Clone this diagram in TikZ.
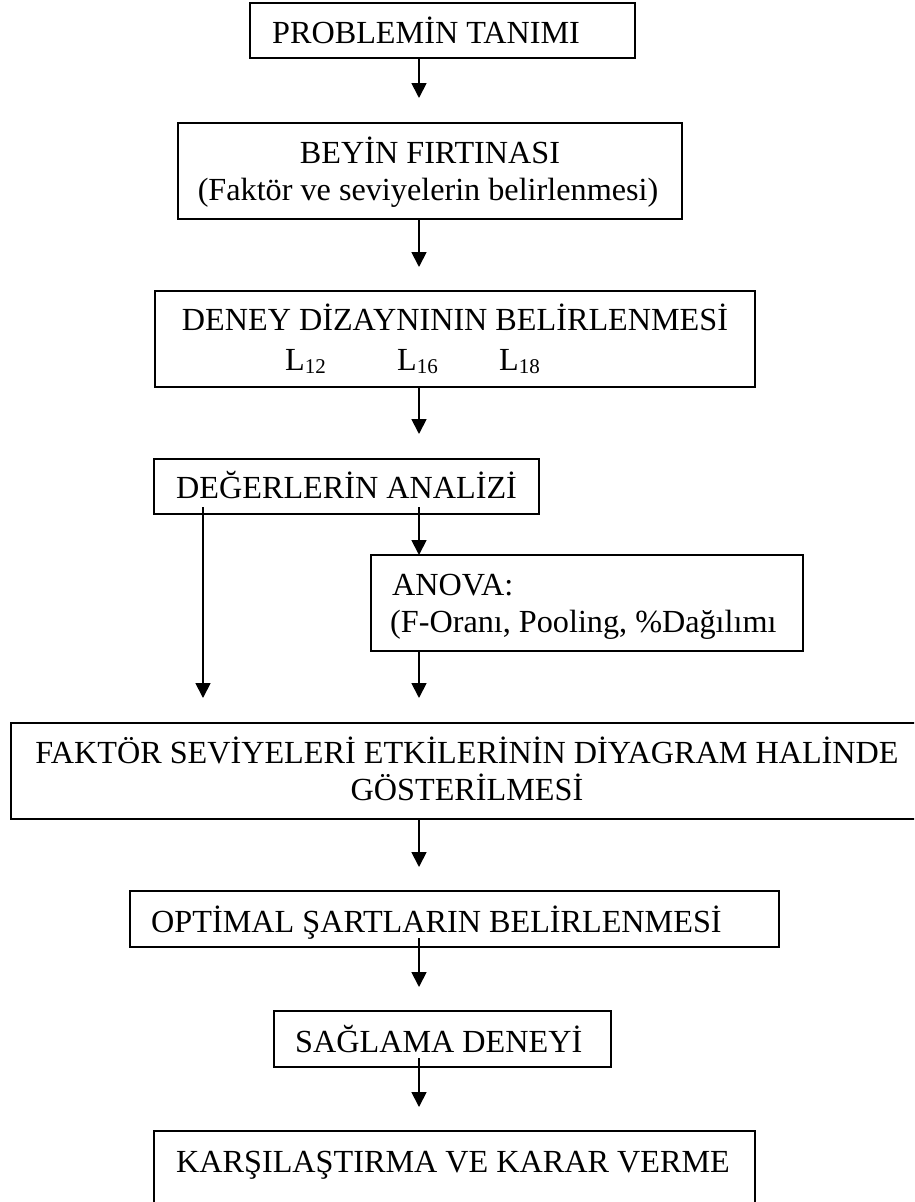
\documentclass[tikz,border=0pt]{standalone}
\usepackage{fontspec}
\setmainfont{Liberation Serif}
\usetikzlibrary{arrows.meta}
\newcommand{\subsc}[1]{\raisebox{-3pt}{\fontsize{21}{21}\selectfont #1}}
\begin{document}
\begin{tikzpicture}[x=1pt,y=-1pt,
  box/.style={draw, line width=1.8pt, inner sep=0pt, outer sep=0pt, anchor=north west},
  txt/.style={inner sep=0pt, font=\fontsize{32.2}{38}\selectfont},
  arr/.style={line width=1.8pt, -{Triangle[width=15pt,length=15pt]}}]
\useasboundingbox (0,0) rectangle (914,1202);
\clip (0,0) rectangle (914,1202);
% boxes
\node[box, minimum width=385pt, minimum height=55pt] (b1) at (250,3) {};
\node[box, minimum width=504pt, minimum height=96pt] (b2) at (178,123) {};
\node[box, minimum width=600pt, minimum height=96pt] (b3) at (155,291) {};
\node[box, minimum width=385pt, minimum height=55pt] (b4) at (154,459) {};
\node[box, minimum width=432pt, minimum height=96pt] (b5) at (371,555) {};
\node[box, minimum width=930pt, minimum height=96pt] (b6) at (11,723) {};
\node[box, minimum width=649pt, minimum height=56pt] (b7) at (130,891) {};
\node[box, minimum width=337pt, minimum height=56pt] (b8) at (274,1011) {};
\node[box, minimum width=601pt, minimum height=110pt] (b9) at (154,1131) {};
% texts
\node[txt, anchor=base west] (t1) at (272,43) {PROBLEMİN TANIMI};
\node[txt, anchor=base] (t2a) at (430,163) {BEYİN FIRTINASI};
\node[txt, anchor=base] (t2b) at (428,200) {(Faktör ve seviyelerin belirlenmesi)};
\node[txt, anchor=base] (t3a) at (455,330) {DENEY DİZAYNININ BELİRLENMESİ};
\node[txt, anchor=base west] (t3b) at (285,370) {L\subsc{12}};
\node[txt, anchor=base west] (t3c) at (397,370) {L\subsc{16}};
\node[txt, anchor=base west] (t3d) at (499,370) {L\subsc{18}};
\node[txt, anchor=base west] (t4) at (176,498) {DEĞERLERİN ANALİZİ};
\node[txt, anchor=base west] (t5a) at (392,595) {ANOVA:};
\node[txt, anchor=base west] (t5b) at (390,632) {(F-Oranı, Pooling, \%Dağılımı};
\node[txt, anchor=base] (t6a) at (467,763) {FAKTÖR SEVİYELERİ ETKİLERİNİN DİYAGRAM HALİNDE};
\node[txt, anchor=base] (t6b) at (467,800) {GÖSTERİLMESİ};
\node[txt, anchor=base west] (t7) at (151,932) {OPTİMAL ŞARTLARIN BELİRLENMESİ};
\node[txt, anchor=base west] (t8) at (295,1052) {SAĞLAMA DENEYİ};
\node[txt, anchor=base west] (t9) at (176,1172) {KARŞILAŞTIRMA VE KARAR VERME};
% arrow coordinates
\coordinate (p1) at (419,98);
\coordinate (p2) at (419,267);
\coordinate (p3) at (419,434);
\coordinate (s4l) at (203,507);
\coordinate (p4l) at (203,698);
\coordinate (s4r) at (419,507);
\coordinate (p6) at (419,698);
\coordinate (p7) at (419,867);
\coordinate (s8) at (419,938);
\coordinate (p8) at (419,987);
\coordinate (s9) at (419,1058);
\coordinate (p9) at (419,1107);
% connectors
\draw[arr] (b1.south -| p1) -- (p1);
\draw[arr] (b2.south -| p2) -- (p2);
\draw[arr] (b3.south -| p3) -- (p3);
\draw[arr] (s4l) -- (p4l);
\draw[arr] (s4r) -- (b5.north -| s4r);
\draw[arr] (b5.south -| p6) -- (p6);
\draw[arr] (b6.south -| p7) -- (p7);
\draw[arr] (s8) -- (p8);
\draw[arr] (s9) -- (p9);
\end{tikzpicture}
\end{document}
